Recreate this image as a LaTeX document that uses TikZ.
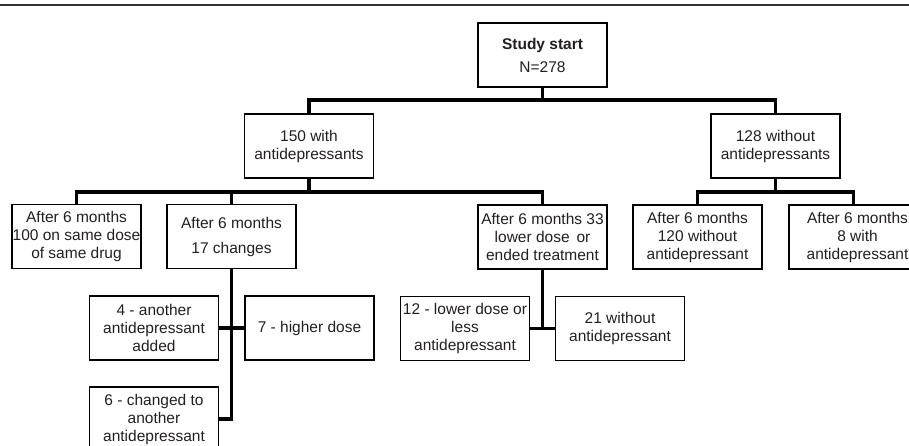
\documentclass[tikz,border=0pt]{standalone}
\usepackage{fontspec}
\setmainfont{Liberation Sans}
\definecolor{ink}{HTML}{231F20}
\begin{document}
\begin{tikzpicture}[x=1pt,y=-1pt,
  box/.style={draw=black, line width=1.4pt, minimum width=129pt, minimum height=64pt,
    inner sep=0pt, align=center, text=ink, font=\fontsize{15.5}{18}\selectfont},
  conn/.style={draw=black, line width=3.8pt, line join=miter}]
\useasboundingbox (0,0) rectangle (909,446);
\clip (0,0) rectangle (909,446);
\draw[line width=2.4pt, draw=black!80] (0,5) -- (909,5);
% nodes
\node[box] (start) at (542.5,55) {\textbf{Study start}\\[5pt]N=278};
\node[box] (w150) at (309,146) {150 with\\antidepressants};
\node[box] (wo128) at (775.5,146) {128 without\\antidepressants};
\node[box] (a1) at (76.5,236.5) {After 6 months\\100 on same dose\\of same drug};
\node[box] (a2) at (231.5,236.5) {After 6 months\\[7pt]17 changes};
\node[box] (a3) at (542.5,237) {After 6 months 33\\lower dose\, or\\ended treatment};
\node[box] (a4) at (697.5,237) {After 6 months\\120 without\\antidepressant};
\node[box] (a5) at (853.5,237) {\hspace*{8pt}After 6 months\\\hspace*{8pt}8 with\\\hspace*{8pt}antidepressant};
\node[box] (s1) at (154,328) {4 - another\\antidepressant\\added};
\node[box] (s2) at (309.5,328) {7 - higher dose};
\node[box] (s3) at (154,419) {6 - changed to\\another\\antidepressant};
\node[box] (t1) at (465,328.5) {12 - lower dose or\\less\\antidepressant};
\node[box] (t2) at (620,328.5) {21 without\\antidepressant};
% hubs
\coordinate (hub1) at (542.5,100);
\coordinate (hub2) at (309,192);
\coordinate (hub3) at (775.5,192);
% connectors
\draw[conn] (start.south) -- (hub1);
\draw[conn] (w150.north) |- (hub1) -| (wo128.north);
\draw[conn] (w150.south) -- (hub2);
\draw[conn] (a1.north) |- (hub2) -| (a3.north);
\draw[conn] (a2.north) -- (a2.north |- hub2);
\draw[conn] (wo128.south) -- (hub3);
\draw[conn] (a4.north) |- (hub3) -| (a5.north);
\draw[conn] (a2.south) |- (s3.east);
\draw[conn] (s1.east) -- (s2.west);
\draw[conn] (a3.south) -- (a3.south |- t1.east);
\draw[conn] (t1.east) -- (t2.west);
\end{tikzpicture}
\end{document}
